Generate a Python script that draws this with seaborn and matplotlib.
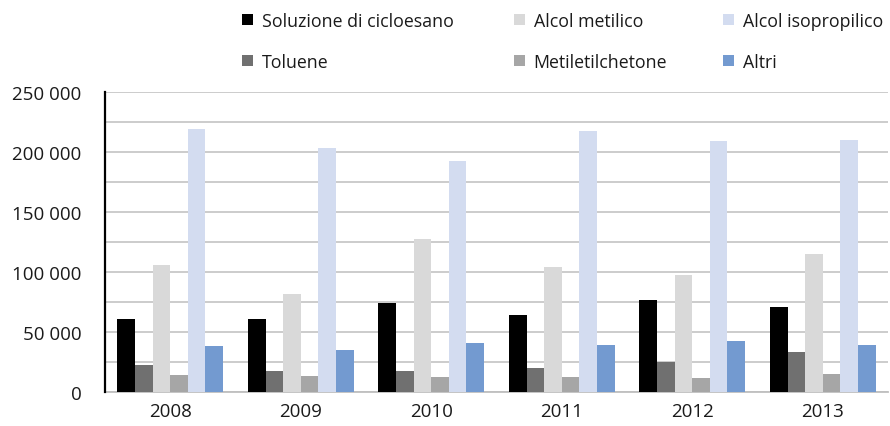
import numpy as np
import pandas as pd
import matplotlib
matplotlib.use("Agg")
import matplotlib.pyplot as plt
from matplotlib.patches import Patch
import seaborn as sns

years = ["2008", "2009", "2010", "2011", "2012", "2013"]
series = ["Soluzione di cicloesano", "Toluene", "Alcol metilico",
          "Metiletilchetone", "Alcol isopropilico", "Altri"]
soluzione = [60700, 60700, 74100, 64000, 76600, 70700]
toluene = [22300, 17300, 17300, 19800, 25100, 33100]
metilico = [105800, 81600, 127500, 104100, 97400, 115000]
mek = [13900, 13100, 12200, 12200, 11400, 14800]
isopropilico = [219400, 203500, 192700, 217700, 209400, 210200]
altri = [38100, 34800, 40600, 39000, 42300, 39000]
colors = ["#000000", "#707070", "#D9D9D9", "#A6A6A6", "#D3DCF0", "#739AD0"]

values = [soluzione, toluene, metilico, mek, isopropilico, altri]
df = pd.DataFrame([
    {"year": y, "series": s, "value": v}
    for s, vals in zip(series, values)
    for y, v in zip(years, vals)
])

sns.set_theme(style="white")
plt.rcParams["font.family"] = ["Open Sans", "DejaVu Sans"]
FS = 13.5
LFS = 12.8

fig = plt.figure(figsize=(8.9, 4.27), dpi=100)
ax = fig.add_axes([105 / 890, 34 / 427, 783 / 890, 300 / 427])

sns.barplot(data=df, x="year", y="value", hue="series", hue_order=series,
            order=years, palette=colors, saturation=1, width=0.81,
            linewidth=0, legend=False, ax=ax, zorder=3)

ax.set_ylim(0, 250000)
ax.set_xlim(-0.5, len(years) - 0.5)
ticks = np.arange(0, 250001, 25000)
ax.set_yticks(ticks)
ax.set_yticklabels([f"{t:,}".replace(",", " ") if t % 50000 == 0 else "" for t in ticks],
                   fontsize=FS, color="#1a1a1a")
ax.tick_params(axis="y", direction="out", length=5.8, width=1.2, color="#C8C8C8", pad=11)
ax.tick_params(axis="x", length=0, pad=7, labelsize=FS, labelcolor="#1a1a1a")
ax.yaxis.grid(True, color="#C8C8C8", lw=1.3, zorder=0)
ax.set_axisbelow(True)
ax.set_xlabel("")
ax.set_ylabel("")
for sp in ["top", "right"]:
    ax.spines[sp].set_visible(False)
ax.spines["left"].set_color("black")
ax.spines["left"].set_linewidth(1.6)
ax.spines["left"].set_zorder(5)
ax.spines["bottom"].set_color("#BFBFBF")
ax.spines["bottom"].set_linewidth(1.3)

handles = [Patch(facecolor=c, edgecolor="none", label=s) for s, c in zip(series, colors)]
col_x = [242, 514, 723]
for i, x in enumerate(col_x):
    fig.legend(handles=handles[2 * i:2 * i + 2], loc="upper left",
               bbox_to_anchor=(x / 890, (427 - 13) / 427), frameon=False,
               fontsize=LFS, handlelength=0.6, handleheight=0.6,
               handletextpad=0.5, labelspacing=1.3, borderpad=0,
               borderaxespad=0, labelcolor="#1a1a1a")

fig.savefig("out.png", dpi=100)
